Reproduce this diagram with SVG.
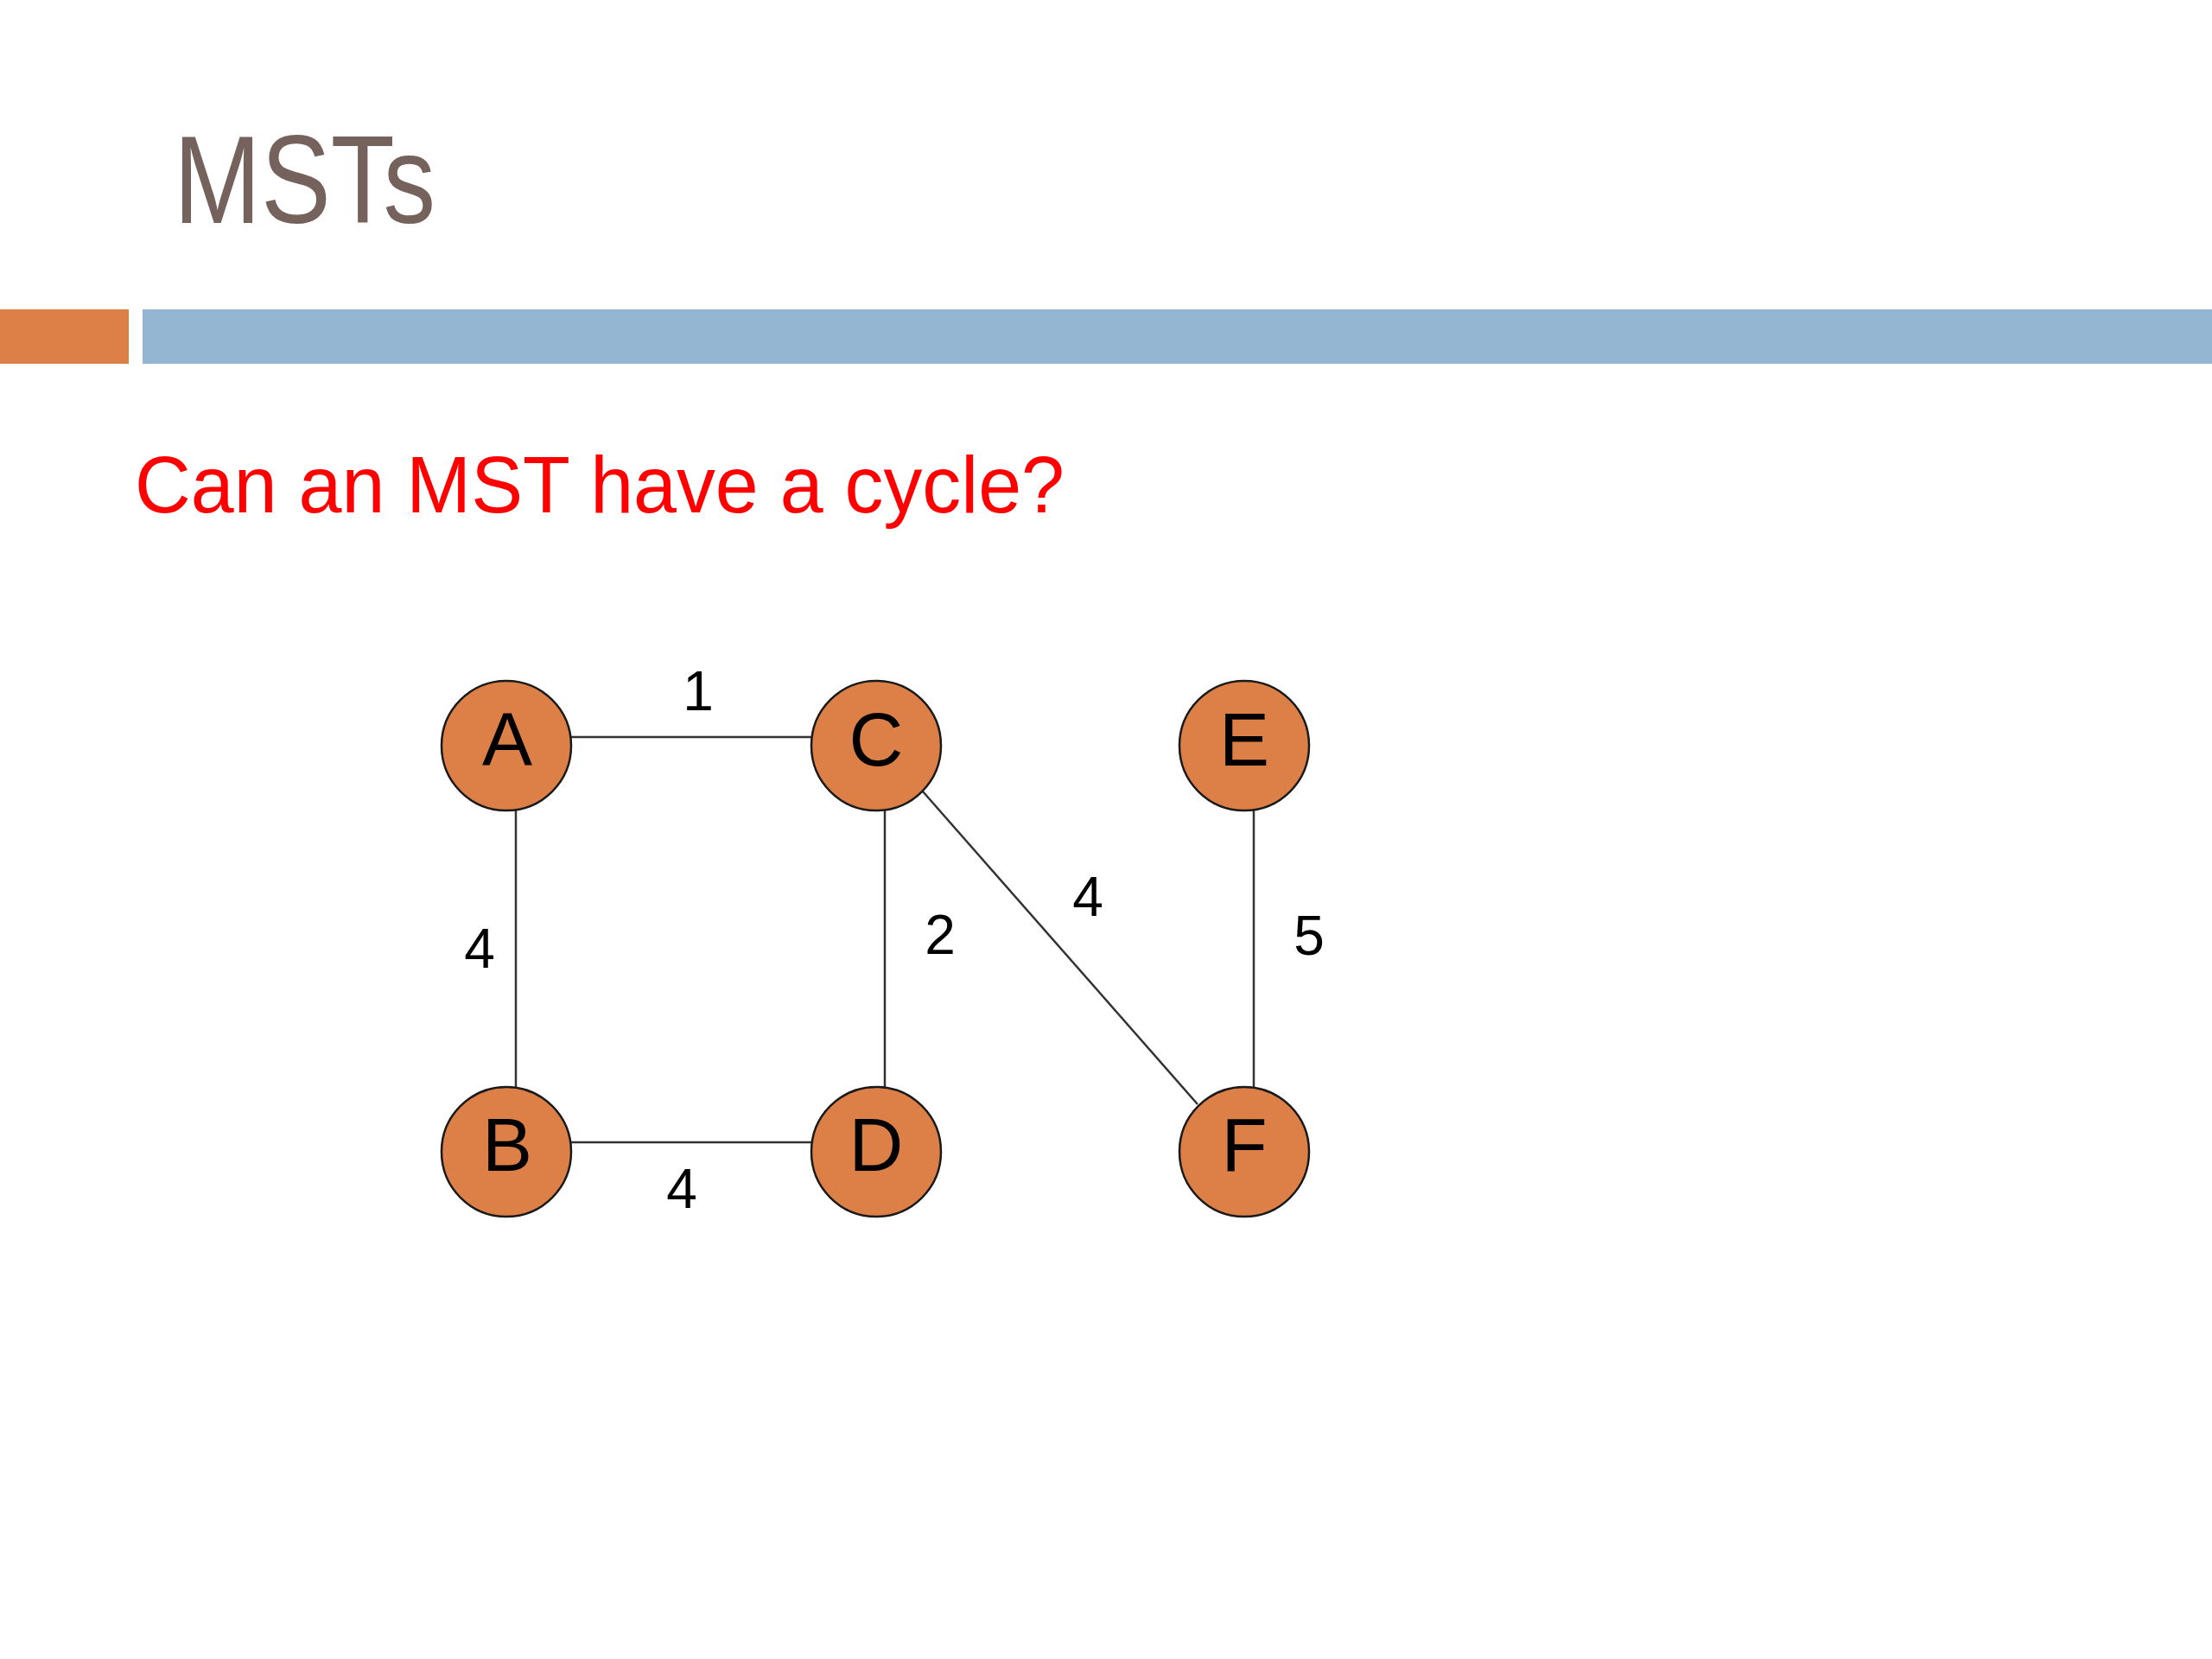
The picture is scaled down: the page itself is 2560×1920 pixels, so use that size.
<svg xmlns="http://www.w3.org/2000/svg" width="2560" height="1920" viewBox="0 0 2560 1920">
<style>
.node circle{fill:#DD8047;stroke:#1a1a1a;stroke-width:2.5}
.node text{font-family:"Liberation Sans",Arial,sans-serif;font-size:87px;fill:#000;text-anchor:middle}
.edge{stroke:#333;stroke-width:2.5;fill:none}
.w{font-family:"Liberation Sans",Arial,sans-serif;font-size:64px;fill:#000;text-anchor:middle}
</style>
<rect x="0" y="0" width="2560" height="1920" fill="#fff"/>
<text x="201" y="258" font-family="'Liberation Sans',Arial,sans-serif" font-size="144" fill="#76625C" textLength="303" lengthAdjust="spacingAndGlyphs">MSTs</text>
<rect x="0" y="358" width="149" height="63" fill="#DD8047"/>
<rect x="165" y="358" width="2395" height="63" fill="#94B6D2"/>
<text x="156" y="593" font-family="'Liberation Sans',Arial,sans-serif" font-size="92" fill="#FF0000" textLength="1076" lengthAdjust="spacingAndGlyphs">Can an MST have a cycle?</text>
<g id="connectors">
<line class="edge" x1="661" y1="853" x2="939" y2="853"/>
<line class="edge" x1="597" y1="938" x2="597" y2="1259"/>
<line class="edge" x1="1024" y1="938" x2="1024" y2="1259"/>
<line class="edge" x1="1451" y1="938" x2="1451" y2="1259"/>
<line class="edge" x1="661" y1="1322" x2="939" y2="1322"/>
<line class="edge" x1="1068" y1="916" x2="1386" y2="1278"/>
<text class="w" x="808" y="822">1</text>
<text class="w" x="555" y="1120">4</text>
<text class="w" x="1088" y="1104">2</text>
<text class="w" x="1259" y="1060">4</text>
<text class="w" x="1515" y="1105">5</text>
<text class="w" x="789" y="1398">4</text>
</g>
<g id="node-A" class="node"><circle cx="586" cy="863" r="75"/><text x="587" y="886">A</text></g>
<g id="node-C" class="node"><circle cx="1014" cy="863" r="75"/><text x="1014" y="886">C</text></g>
<g id="node-E" class="node"><circle cx="1440" cy="863" r="75"/><text x="1440" y="886">E</text></g>
<g id="node-B" class="node"><circle cx="586" cy="1333" r="75"/><text x="587" y="1355">B</text></g>
<g id="node-D" class="node"><circle cx="1014" cy="1333" r="75"/><text x="1014" y="1355">D</text></g>
<g id="node-F" class="node"><circle cx="1440" cy="1333" r="75"/><text x="1440" y="1355">F</text></g>
</svg>
